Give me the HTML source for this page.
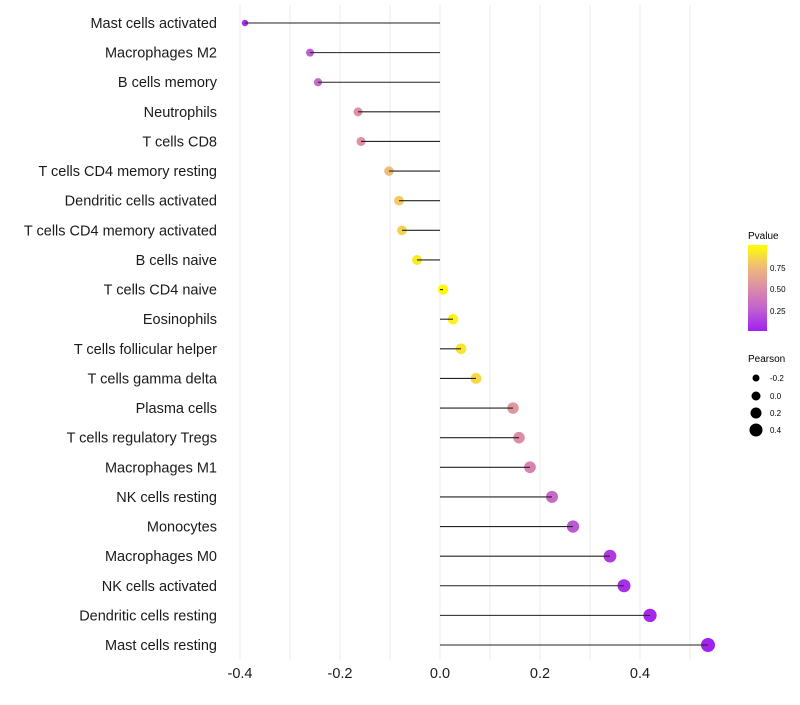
<!DOCTYPE html>
<html><head><meta charset="utf-8"><style>
body{margin:0;background:#fff;font-family:"Liberation Sans",sans-serif}
</style></head><body>
<svg id="chart" width="800" height="700" xmlns="http://www.w3.org/2000/svg" font-family="Liberation Sans, sans-serif">
<defs><linearGradient id="pg" x1="0" y1="1" x2="0" y2="0">
<stop offset="0" stop-color="#a020f0"/><stop offset="0.25" stop-color="#c060d0"/><stop offset="0.5" stop-color="#dc8ca8"/><stop offset="0.75" stop-color="#f0bc78"/><stop offset="1" stop-color="#ffff00"/></linearGradient></defs>
<g id="grid"></g>
<g id="marks"></g>
<g id="ylabels"></g>
<g id="xlabels"></g>
<g>
<text x="748" y="239" font-size="10">Pvalue</text>
<rect x="748" y="245" width="19" height="86" fill="url(#pg)"/>
<text x="770" y="271" font-size="8">0.75</text>
<text x="770" y="292" font-size="8">0.50</text>
<text x="770" y="314" font-size="8">0.25</text>
</g>
<g>
<text x="748" y="362" font-size="10">Pearson</text>
<circle cx="756" cy="378" r="3.5"/><text x="770" y="381" font-size="8">-0.2</text>
<circle cx="756" cy="396" r="4.5"/><text x="770" y="399" font-size="8">0.0</text>
<circle cx="756" cy="413" r="5.5"/><text x="770" y="416" font-size="8">0.2</text>
<circle cx="756" cy="430" r="6.5"/><text x="770" y="433" font-size="8">0.4</text>
</g>
</svg>
<script>
const categories=["Mast cells activated","Macrophages M2","B cells memory","Neutrophils","T cells CD8","T cells CD4 memory resting","Dendritic cells activated","T cells CD4 memory activated","B cells naive","T cells CD4 naive","Eosinophils","T cells follicular helper","T cells gamma delta","Plasma cells","T cells regulatory  Tregs ","Macrophages M1","NK cells resting","Monocytes","Macrophages M0","NK cells activated","Dendritic cells resting","Mast cells resting"];
const pearson=[-0.39,-0.26,-0.244,-0.164,-0.158,-0.102,-0.082,-0.076,-0.046,0.006,0.026,0.042,0.072,0.146,0.158,0.18,0.224,0.266,0.34,0.368,0.42,0.536];
const pvalue=[0.05,0.25,0.3,0.52,0.52,0.75,0.8,0.83,0.92,0.99,0.95,0.9,0.85,0.55,0.5,0.45,0.3,0.22,0.1,0.06,0.03,0.005];
const xTicks=[-0.4,-0.2,0,0.2,0.4];
const xTickLabels=["-0.4","-0.2","0.0","0.2","0.4"];
const gridVals=[-0.4,-0.3,-0.2,-0.1,0,0.1,0.2,0.3,0.4,0.5];
const NS="http://www.w3.org/2000/svg";
const X=v=>440+v*500;
const Y=i=>23+i*(622/21);
const R=p=>Math.sqrt(Math.max(2,26.8+41.5*p));
function lerp(a,b,t){return a.map((v,k)=>Math.round(v+(b[k]-v)*t));}
const stops=[[0,[160,32,240]],[0.25,[192,96,208]],[0.5,[220,140,168]],[0.75,[240,188,120]],[1,[255,255,0]]];
function col(p){for(let k=0;k<stops.length-1;k++){const[a,ca]=stops[k],[b,cb]=stops[k+1];if(p<=b){const c=lerp(ca,cb,(p-a)/(b-a));return`rgb(${c})`;}}return"rgb(255,255,0)";}
function mk(t,at,parent){const e=document.createElementNS(NS,t);for(const k in at)e.setAttribute(k,at[k]);parent.appendChild(e);return e;}
const grid=document.getElementById("grid"),marks=document.getElementById("marks"),yl=document.getElementById("ylabels"),xl=document.getElementById("xlabels");
gridVals.forEach(v=>{const l=mk("line",{x1:X(v),x2:X(v),y1:5,y2:660,stroke:"#ebebeb","stroke-width":1},grid);

});
categories.forEach((c,i)=>{
const y=Y(i);
const d=mk("circle",{cx:X(pearson[i]),cy:y,r:R(pearson[i]),fill:col(pvalue[i])},marks);


const l=mk("line",{x1:X(0),x2:X(pearson[i]),y1:y,y2:y,stroke:"#222","stroke-width":1.1},marks);


const t=mk("text",{x:217,y:y+5,"text-anchor":"end","font-size":14.5,fill:"#1a1a1a"},yl);
t.textContent=c;


});
xTicks.forEach((v,i)=>{const t=mk("text",{x:X(v),y:678,"text-anchor":"middle","font-size":14.5,fill:"#1a1a1a"},xl);
t.textContent=xTickLabels[i];

});
</script>
</body></html>
